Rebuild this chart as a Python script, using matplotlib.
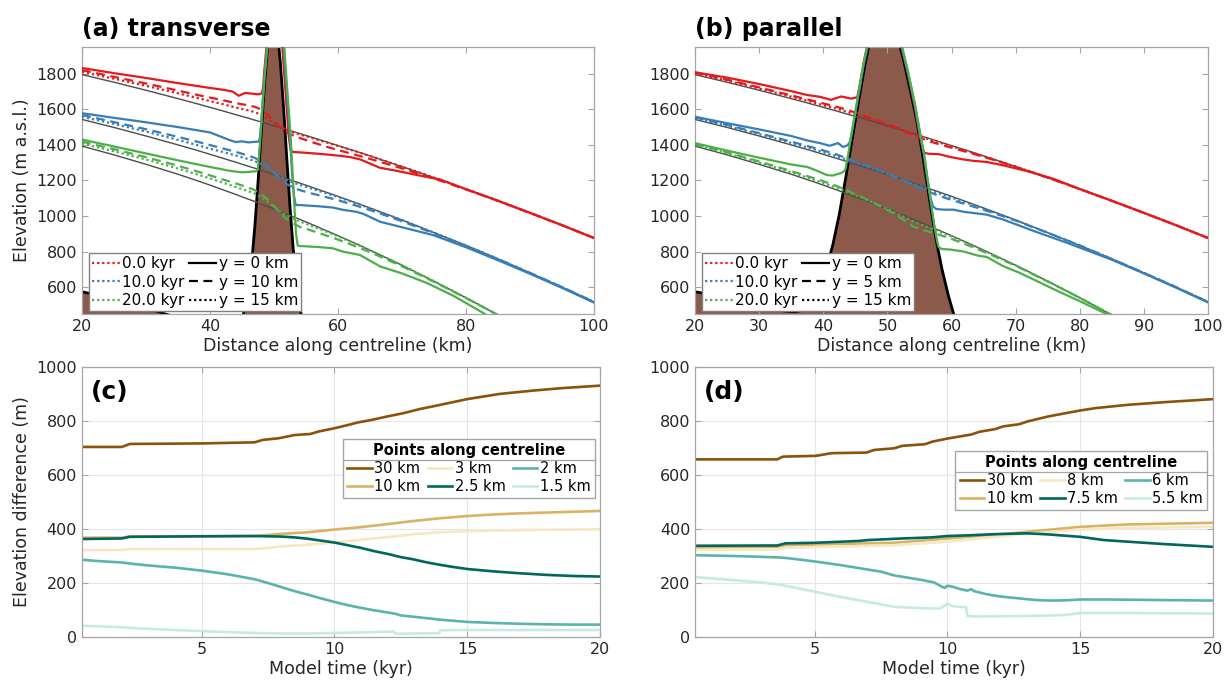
import numpy as np
import matplotlib
matplotlib.use('Agg')
import matplotlib.pyplot as plt
from matplotlib.lines import Line2D

# ---- top panels: surface profiles (km, m a.s.l.) ----
surf_x = [20, 25, 30, 35, 38, 40, 42, 44, 46, 47, 48, 49, 50, 51, 52, 53, 54,
          56, 58, 60, 63, 66, 70, 75, 80, 85, 90, 95, 100]

# reference surfaces (thin grey lines), same in both panels
ref_0 = [1795, 1752, 1707, 1660, 1631, 1611, 1591, 1570, 1550, 1539, 1529, 1518, 1507, 1497, 1486,
         1475, 1464, 1442, 1419, 1396, 1362, 1326, 1278, 1216, 1152, 1086, 1018, 949, 877]
ref_10 = [1543, 1498, 1450, 1400, 1369, 1347, 1325, 1303, 1280, 1269, 1257, 1246, 1234, 1222, 1210,
          1198, 1186, 1161, 1136, 1111, 1072, 1032, 978, 907, 835, 759, 681, 601, 518]
ref_20 = [1393, 1344, 1291, 1235, 1199, 1174, 1148, 1122, 1095, 1082, 1068, 1054, 1040, 1026, 1011,
          997, 982, 952, 921, 890, 842, 792, 724, 634, 541, 444, 342, 237, 127]

# (a) transverse, y = 10 km (dashed) and y = 15 km (dotted)
a_dash_0 = [1820, 1782, 1745, 1705, 1681, 1666, 1651, 1635, 1622, 1614, 1599, 1568, 1532, 1497, 1471,
            1453, 1439, 1415, 1392, 1371, 1342, 1311, 1268, 1211, 1150, 1086, 1018, 949, 877]
a_dot_0 = [1810, 1772, 1732, 1690, 1664, 1646, 1629, 1610, 1594, 1584, 1569, 1546, 1522, 1502, 1484,
           1470, 1459, 1438, 1416, 1394, 1361, 1326, 1278, 1216, 1152, 1086, 1018, 949, 877]
a_dash_10 = [1568, 1528, 1488, 1445, 1418, 1399, 1380, 1361, 1340, 1327, 1307, 1281, 1244, 1207, 1180,
             1160, 1146, 1126, 1108, 1089, 1057, 1022, 971, 903, 833, 759, 681, 601, 518]
a_dot_10 = [1558, 1518, 1475, 1428, 1399, 1379, 1360, 1341, 1320, 1309, 1292, 1271, 1244, 1222, 1202,
            1188, 1176, 1153, 1130, 1107, 1070, 1031, 978, 907, 835, 759, 681, 601, 518]
a_dash_20 = [1418, 1376, 1331, 1283, 1251, 1229, 1206, 1184, 1160, 1146, 1123, 1094, 1055, 1016, 983,
             959, 940, 917, 893, 868, 827, 782, 718, 631, 540, 444, 342, 237, 127]
a_dot_20 = [1408, 1364, 1318, 1267, 1234, 1212, 1188, 1164, 1140, 1127, 1108, 1082, 1052, 1026, 1003,
            985, 970, 943, 915, 886, 840, 791, 724, 634, 541, 444, 342, 237, 127]

# (a) y = 0 km (solid)
a_sol_0_x = [20, 25, 30, 35, 40, 42, 43.5, 44.5, 45.5, 47.6, 48.1, 48.3, 48.45, 48.7, 48.95, 49.2,
             50.9, 51.2, 51.6, 52.0, 52.3, 52.6, 53.0, 54, 57, 60, 62, 63.5, 66.5, 69.5, 73, 76, 80,
             85, 90, 95, 100]
a_sol_0_y = [1832, 1803, 1776, 1747, 1720, 1710, 1700, 1676, 1692, 1684, 1690, 1720, 1800, 1900, 2000,
             2100, 2100, 2000, 1800, 1600, 1450, 1372, 1360, 1358, 1350, 1340, 1331, 1318, 1272, 1252,
             1226, 1205, 1151, 1086, 1018, 949, 877]
a_sol_10_x = [20, 25, 30, 35, 40, 43, 44, 45, 46, 47.3, 47.6, 47.8, 48.03, 48.18, 48.44, 48.75, 49.06,
              49.3, 51.3, 51.6, 52.0, 52.5, 52.8, 53.1, 53.4, 54, 57, 59.2, 60.8, 62.9, 64, 66.6, 69.7,
              74.9, 80, 85, 90, 95, 100]
a_sol_10_y = [1578, 1552, 1527, 1500, 1470, 1428, 1416, 1420, 1414, 1418, 1418, 1440, 1530, 1620, 1750,
              1880, 2000, 2100, 2100, 1900, 1700, 1450, 1250, 1120, 1062, 1062, 1055, 1048, 1035, 1024,
              1012, 968, 940, 893, 825, 752, 676, 597, 514]
a_sol_20_x = [20, 25, 30, 35, 40, 43, 44, 45, 46, 47.2, 47.5, 47.8, 48.05, 48.3, 48.55, 48.85, 49.1,
              49.35, 51.4, 51.7, 52.1, 52.6, 52.9, 53.2, 53.45, 53.7, 54, 57, 59.2, 60.8, 63.4, 66.6,
              70, 73.9, 78, 82.5, 86]
a_sol_20_y = [1430, 1391, 1352, 1313, 1276, 1255, 1250, 1246, 1248, 1252, 1262, 1400, 1540, 1660, 1790,
              1910, 2000, 2100, 2100, 1900, 1700, 1450, 1250, 1050, 900, 835, 832, 826, 819, 800, 782,
              717, 678, 624, 553, 460, 380]

a_bed_x = [20, 25, 30, 33, 36, 40, 44, 45, 46, 46.5, 47, 47.5, 48, 48.5, 49, 49.5, 50, 50.5, 51,
           51.5, 52, 52.5, 53, 53.5, 54, 54.5, 55, 56, 60, 70, 80, 100]
a_bed_y = [575, 535, 485, 450, 420, 375, 355, 412, 581, 733, 937, 1186, 1461, 1729, 1954, 2096, 2130,
           2047, 1862, 1609, 1327, 1054, 818, 628, 493, 401, 344, 291, 250, 200, 160, 100]

# (b) parallel, y = 5 km (dashed) and y = 15 km (dotted)
b_dash_0 = [1807, 1766, 1723, 1678, 1651, 1633, 1615, 1594, 1568, 1554, 1541, 1528, 1515, 1502, 1488,
            1472, 1456, 1427, 1404, 1384, 1354, 1322, 1277, 1216, 1152, 1086, 1018, 949, 877]
b_dot_0 = [1803, 1761, 1717, 1671, 1643, 1623, 1604, 1582, 1560, 1548, 1537, 1524, 1512, 1500, 1487,
           1474, 1461, 1437, 1414, 1392, 1359, 1325, 1278, 1216, 1152, 1086, 1018, 949, 877]
b_dash_10 = [1555, 1512, 1466, 1418, 1389, 1369, 1347, 1321, 1294, 1281, 1267, 1254, 1239, 1224, 1208,
             1192, 1176, 1143, 1114, 1091, 1058, 1024, 975, 906, 835, 759, 681, 601, 518]
b_dot_10 = [1551, 1507, 1460, 1411, 1381, 1359, 1337, 1313, 1288, 1276, 1263, 1251, 1237, 1223, 1209,
            1195, 1181, 1154, 1128, 1104, 1067, 1029, 977, 907, 835, 759, 681, 601, 518]
b_dash_20 = [1405, 1358, 1307, 1253, 1219, 1196, 1170, 1140, 1107, 1090, 1072, 1054, 1035, 1014, 991,
             967, 942, 917, 896, 872, 830, 785, 721, 633, 541, 444, 342, 237, 127]
b_dot_20 = [1401, 1353, 1301, 1246, 1211, 1186, 1160, 1132, 1103, 1088, 1072, 1056, 1040, 1023, 1005,
            988, 970, 942, 914, 885, 839, 790, 723, 634, 541, 444, 342, 237, 127]

b_sol_0_x = [20, 25, 30, 35, 37.5, 39.5, 41.2, 42.8, 44.4, 45.3, 45.6, 46.0, 46.45, 47.0, 47.45,
             51.45, 52.2, 53.2, 54.2, 55.0, 55.5, 55.8, 56.5, 58, 59.8, 61.9, 63.5, 65.5, 68.1, 72.3,
             76, 80, 85, 90, 95, 100]
b_sol_0_y = [1808, 1778, 1742, 1702, 1680, 1670, 1653, 1672, 1660, 1668, 1720, 1800, 1890, 1980, 2050,
             2050, 1950, 1800, 1630, 1460, 1380, 1355, 1350, 1348, 1332, 1318, 1310, 1304, 1285, 1248,
             1208, 1152, 1086, 1018, 949, 877]
b_sol_10_x = [20, 25, 30, 35, 37.5, 39.5, 41.0, 42.3, 43.1, 43.8, 44.2, 44.6, 45.05, 45.7, 46.3, 47.2,
              47.5, 51.5, 52.25, 53.25, 54.25, 55.1, 55.7, 56.2, 56.75, 57.1, 57.6, 58.8, 60.3, 61.9,
              65.5, 68.1, 73.3, 78, 85, 90, 95, 100]
b_sol_10_y = [1558, 1522, 1487, 1450, 1425, 1410, 1395, 1410, 1388, 1398, 1420, 1500, 1590, 1720, 1850,
              2000, 2050, 2050, 1950, 1800, 1630, 1460, 1345, 1220, 1100, 1055, 1040, 1036, 1036, 1024,
              1008, 980, 910, 850, 755, 678, 598, 515]
b_sol_20_x = [20, 25, 30, 35, 37.5, 39, 40.6, 41.5, 42.4, 43.0, 43.45, 43.9, 44.5, 45.1, 45.72, 46.35,
              47.13, 47.45, 51.55, 52.3, 53.3, 54.3, 55.15, 55.75, 56.3, 56.85, 57.35, 57.75, 58.0,
              58.5, 59.8, 62.0, 64.1, 65.5, 68.1, 70.7, 75.9, 80, 83.9, 88]
b_sol_20_y = [1410, 1368, 1328, 1290, 1276, 1255, 1230, 1228, 1238, 1245, 1262, 1350, 1480, 1610, 1740,
              1870, 2000, 2050, 2050, 1950, 1800, 1630, 1460, 1345, 1200, 1060, 940, 860, 825, 815,
              812, 800, 778, 770, 718, 680, 590, 522, 455, 380]

b_bed_x = [20, 24, 28, 32, 34, 35.5, 36.5, 37.5, 38.5, 39.5, 40.5, 41.5, 42.5, 43.5, 44.5, 45.5,
           46.5, 47.5, 48.5, 49.5, 50.5, 51.5, 52.5, 53.5, 54.5, 55.5, 56.5, 57.5, 58.5, 59.5, 60.5,
           62, 66, 70, 80, 100]
b_bed_y = [575, 548, 515, 480, 466, 462, 468, 485, 515, 590, 705, 840, 1010, 1215, 1430, 1645, 1850,
           2020, 2130, 2180, 2140, 2020, 1880, 1720, 1550, 1345, 1110, 885, 705, 555, 430, 360, 300,
           260, 200, 150]

time_labels = ['0.0 kyr', '10.0 kyr', '20.0 kyr']

# ---- bottom panels: elevation difference (m) vs model time (kyr) ----
c_labels = ['30 km', '10 km', '3 km', '2.5 km', '2 km', '1.5 km']
c_t_30 = [0.5, 2.0, 2.3, 5, 7.0, 7.3, 7.9, 8.5, 9.1, 9.4, 10.0, 10.5, 10.9, 11.4, 12.0, 12.6, 13.2,
          13.8, 15.0, 16.2, 17.4, 18.6, 20]
c_v_30 = [704, 704, 715, 717, 721, 730, 736, 748, 752, 761, 773, 785, 795, 804, 817, 829, 844, 856,
          881, 900, 912, 922, 931]
c_t_10 = [0.5, 2.0, 2.3, 7.0, 7.5, 8.0, 9.0, 10.0, 11.0, 12.0, 13.0, 14.0, 15.0, 16.0, 17.0, 18.0,
          19.0, 20.0]
c_v_10 = [368, 368, 373, 374, 378, 382, 388, 398, 407, 418, 430, 440, 448, 454, 458, 461, 464, 467]
c_t_3 = [0.5, 2.0, 2.3, 7.0, 7.5, 8.0, 9.0, 10.0, 11.0, 12.0, 12.5, 13.0, 14.0, 15.0, 16.0, 17.0,
         18.0, 19.0, 20.0]
c_v_3 = [322, 322, 326, 326, 330, 336, 342, 350, 360, 370, 375, 381, 388, 392, 394, 396, 397, 398, 399]
c_t_25 = [0.5, 2.0, 2.3, 5, 7, 8, 8.5, 9, 9.5, 10, 10.5, 11, 11.5, 12, 12.5, 13, 13.5, 14, 14.5, 15,
          16, 17, 18, 19, 20]
c_v_25 = [363, 365, 371, 373, 374, 372, 369, 364, 357, 350, 340, 330, 318, 308, 296, 287, 276, 267,
          259, 252, 243, 236, 230, 226, 224]
c_t_2 = [0.5, 1, 2, 2.5, 3, 4, 5, 6, 7, 7.5, 8, 8.5, 9, 9.5, 10, 10.5, 11, 11.5, 12, 12.3, 12.5, 13,
         14, 15, 16, 17, 18, 19, 20]
c_v_2 = [286, 282, 276, 270, 265, 257, 246, 232, 214, 200, 185, 170, 157, 143, 130, 118, 108, 99, 91,
         86, 80, 75, 64, 56, 52, 49, 47, 46, 46]
c_t_15 = [0.5, 1, 2, 3, 4, 5, 6, 7, 8, 9, 10, 11, 12, 12.25, 12.3, 13, 13.95, 14.0, 15, 16, 17, 18,
          19, 20]
c_v_15 = [42, 40, 36, 30, 26, 22, 18, 15, 13, 13, 15, 17, 20, 20, 12, 13, 14, 25, 26, 26, 26, 26, 26, 26]

d_labels = ['30 km', '10 km', '8 km', '7.5 km', '6 km', '5.5 km']
d_t_30 = [0.5, 3.6, 3.8, 5.05, 5.35, 5.65, 6.95, 7.25, 8.0, 8.3, 9.15, 9.45, 10.0, 10.6, 10.9, 11.2,
          11.8, 12.1, 12.7, 13.0, 13.8, 15.0, 15.6, 16.8, 18.2, 20]
d_v_30 = [658, 658, 668, 671, 676, 681, 683, 693, 699, 708, 714, 724, 735, 745, 750, 760, 770, 780,
          788, 798, 817, 839, 848, 860, 870, 881]
d_t_10 = [0.5, 3.6, 3.9, 8.0, 10.0, 12.4, 15.0, 16.8, 20]
d_v_10 = [332, 334, 340, 349, 365, 384, 408, 417, 423]
d_t_8 = [0.5, 3.6, 3.9, 8.0, 10.0, 12.4, 15.0, 16.8, 20]
d_v_8 = [322, 324, 330, 340, 353, 377, 398, 404, 408]
d_t_75 = [0.5, 3.6, 3.9, 5.0, 6.0, 6.7, 7.0, 8.3, 9.4, 10.0, 10.9, 11.8, 13.0, 13.8, 15.0, 15.9, 16.8,
          18.2, 20]
d_v_75 = [338, 339, 347, 349, 353, 356, 359, 365, 369, 374, 377, 381, 384, 380, 371, 359, 353, 344, 334]
d_t_6 = [0.5, 1, 2, 3, 3.6, 4, 5, 6, 7, 7.5, 8, 9, 9.5, 9.8, 9.9, 10.0, 10.2, 10.5, 10.75, 10.9, 11.0,
         11.5, 12, 12.5, 13, 13.5, 14, 14.5, 15, 16, 17, 18, 19, 20]
d_v_6 = [303, 302, 300, 297, 295, 292, 280, 266, 250, 242, 228, 212, 202, 186, 182, 190, 186, 177, 172,
         177, 170, 158, 150, 145, 140, 136, 135, 136, 139, 139, 138, 137, 136, 135]
d_t_55 = [0.5, 1, 2, 3, 3.6, 4, 5, 6, 7, 8, 9, 9.7, 9.8, 10.0, 10.2, 10.5, 10.7, 10.75, 11, 12, 13,
          14, 14.5, 15, 16, 17, 18, 19, 20]
d_v_55 = [222, 218, 210, 202, 195, 188, 168, 148, 130, 112, 107, 105, 110, 124, 114, 111, 111, 78, 76,
          77, 78, 80, 82, 89, 89, 89, 88, 88, 87]

brbg = ['#8c510a', '#d8b365', '#f6e8c3', '#01665e', '#5ab4ac', '#c7eae5']
set1 = ['#e41a1c', '#377eb8', '#4daf4a']
bed_col = '#8b5a4b'
frame_col = '#a6a6a6'
dash = (0, (4, 2.5))
dot = (0, (1, 1.3))

fig = plt.figure(figsize=(12.31, 6.86), dpi=100)
ax_a = fig.add_axes([0.0666, 0.5423, 0.4159, 0.3892])
ax_b = fig.add_axes([0.5646, 0.5423, 0.4167, 0.3892])
ax_c = fig.add_axes([0.0666, 0.0714, 0.4208, 0.3936])
ax_d = fig.add_axes([0.5646, 0.0714, 0.4208, 0.3936])


def style(ax):
    for s in ax.spines.values():
        s.set_color(frame_col)
        s.set_linewidth(0.9)
    ax.tick_params(direction='in', top=True, right=True, color=frame_col,
                   labelcolor='#262626', labelsize=11.5, length=4)


def profiles(ax, bed_x, bed_y, solids, dashes, dots):
    ax.fill_between(bed_x, bed_y, 0, color=bed_col, lw=0, zorder=1)
    ax.plot(bed_x, bed_y, color='black', lw=2, zorder=2)
    for ref in (ref_0, ref_10, ref_20):
        ax.plot(surf_x, ref, color='#4d4d4d', lw=1.0, zorder=3)
    for i in range(3):
        ax.plot(surf_x, dots[i], color=set1[i], lw=1.6, ls=dot, zorder=4)
        ax.plot(surf_x, dashes[i], color=set1[i], lw=1.6, ls=dash, zorder=4)
        ax.plot(solids[i][0], solids[i][1], color=set1[i], lw=1.6, zorder=5)
    ax.set_xlim(20, 100)
    ax.set_ylim(450, 1950)
    ax.set_yticks(np.arange(600, 1801, 200))
    ax.set_xlabel('Distance along centreline (km)', fontsize=12.5, color='#262626', labelpad=2)
    style(ax)


def top_legend(ax, ylabels):
    h = [Line2D([], [], color=c, lw=1.6, ls=dot) for c in set1]
    h += [Line2D([], [], color='black', lw=1.6, ls=s) for s in ('-', dash, dot)]
    ax.legend(h, time_labels + ylabels, ncol=2, loc='lower left', bbox_to_anchor=(0.008, 0.0),
              fontsize=11, handlelength=1.8, handletextpad=0.15, columnspacing=0.3,
              labelspacing=0.22, borderpad=0.2, borderaxespad=0.2, fancybox=False,
              framealpha=1, edgecolor='#808080')


profiles(ax_a, a_bed_x, a_bed_y,
         [(a_sol_0_x, a_sol_0_y), (a_sol_10_x, a_sol_10_y), (a_sol_20_x, a_sol_20_y)],
         [a_dash_0, a_dash_10, a_dash_20], [a_dot_0, a_dot_10, a_dot_20])
ax_a.set_xticks([20, 40, 60, 80, 100])
ax_a.set_ylabel('Elevation (m a.s.l.)', fontsize=12.5, color='#262626')
ax_a.set_title('(a) transverse', loc='left', fontsize=17, fontweight='bold', pad=8)
top_legend(ax_a, ['y = 0 km', 'y = 10 km', 'y = 15 km'])

profiles(ax_b, b_bed_x, b_bed_y,
         [(b_sol_0_x, b_sol_0_y), (b_sol_10_x, b_sol_10_y), (b_sol_20_x, b_sol_20_y)],
         [b_dash_0, b_dash_10, b_dash_20], [b_dot_0, b_dot_10, b_dot_20])
ax_b.set_xticks(np.arange(20, 101, 10))
ax_b.set_title('(b) parallel', loc='left', fontsize=17, fontweight='bold', pad=8)
top_legend(ax_b, ['y = 0 km', 'y = 5 km', 'y = 15 km'])


def diffs(ax, series, labels, tag, anchor):
    ax.grid(True, color='#e6e6e6', lw=0.8)
    ax.set_axisbelow(True)
    lines = []
    for (t, v), c in zip(series, brbg):
        ln, = ax.plot(t, v, color=c, lw=1.9)
        lines.append(ln)
    ax.set_xlim(0.5, 20)
    ax.set_ylim(0, 1000)
    ax.set_xticks([5, 10, 15, 20])
    ax.set_yticks(np.arange(0, 1001, 200))
    ax.set_xlabel('Model time (kyr)', fontsize=12.5, color='#262626', labelpad=2)
    ax.text(0.018, 0.907, tag, transform=ax.transAxes, fontsize=18, fontweight='bold',
            ha='left', va='center')
    style(ax)
    leg = ax.legend(lines, labels, ncol=3, title='Points along centreline',
                    title_fontproperties={'weight': 'bold', 'size': 10.5},
                    loc='upper right', bbox_to_anchor=anchor, fontsize=10.5,
                    handlelength=1.7, handletextpad=0.15, columnspacing=0.5,
                    labelspacing=0.2, borderpad=0.3, borderaxespad=0.0,
                    fancybox=False, framealpha=1, edgecolor=frame_col)
    return leg


leg_c = diffs(ax_c, [(c_t_30, c_v_30), (c_t_10, c_v_10), (c_t_3, c_v_3), (c_t_25, c_v_25),
                     (c_t_2, c_v_2), (c_t_15, c_v_15)], c_labels, '(c)', (0.99, 0.734))
ax_c.set_ylabel('Elevation difference (m)', fontsize=12.5, color='#262626')
leg_d = diffs(ax_d, [(d_t_30, d_v_30), (d_t_10, d_v_10), (d_t_8, d_v_8), (d_t_75, d_v_75),
                     (d_t_6, d_v_6), (d_t_55, d_v_55)], d_labels, '(d)', (0.989, 0.69))

# separator under the legend title, as in the original
fig.canvas.draw()
for leg in (leg_c, leg_d):
    lb = leg.get_window_extent()
    tb = leg.get_title().get_window_extent()
    y = (tb.y0 - 2) / fig.bbox.height
    fig.add_artist(Line2D([lb.x0 / fig.bbox.width, lb.x1 / fig.bbox.width], [y, y],
                          color=frame_col, lw=0.9))

fig.savefig('out.png', dpi=100)
